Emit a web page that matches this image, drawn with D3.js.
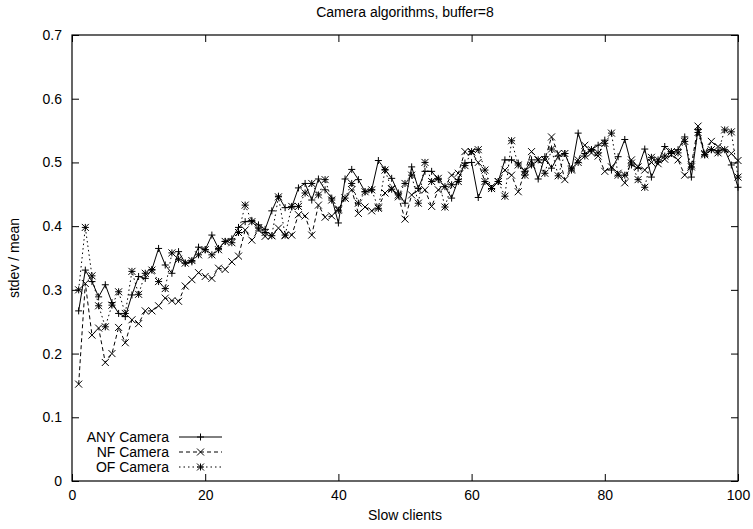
<!DOCTYPE html>
<html lang="en">
<head>
<meta charset="utf-8">
<title>Camera algorithms, buffer=8</title>
<script src="https://d3js.org/d3.v7.min.js"></script>
<style>
  body { margin: 0; background: #fff; }
  svg { display: block; }
  text { font-family: "Liberation Sans", Arial, Helvetica, sans-serif; fill: #000; }
  .tick-label { font-size: 14px; }
  .title { font-size: 14px; }
  .axis-label { font-size: 14px; }
  .legend { font-size: 14px; }
</style>
</head>
<body>
<svg id="chart" width="753" height="529"></svg>
<script>
// values, x = 1..100 slow clients
const slowClients = d3.range(1, 101);

const anyCamera = [
  0.267, 0.331, 0.313, 0.289, 0.308, 0.280, 0.263, 0.258, 0.292, 0.321,
  0.318, 0.332, 0.365, 0.339, 0.326, 0.360, 0.342, 0.344, 0.367, 0.363,
  0.386, 0.365, 0.376, 0.380, 0.398, 0.407, 0.409, 0.402, 0.395, 0.424,
  0.447, 0.429, 0.430, 0.460, 0.467, 0.441, 0.474, 0.457, 0.444, 0.405,
  0.474, 0.489, 0.473, 0.454, 0.457, 0.503, 0.489, 0.475, 0.452, 0.436,
  0.493, 0.459, 0.486, 0.486, 0.473, 0.462, 0.444, 0.473, 0.499, 0.500,
  0.445, 0.470, 0.459, 0.470, 0.504, 0.504, 0.499, 0.486, 0.504, 0.474,
  0.509, 0.491, 0.510, 0.514, 0.488, 0.546, 0.514, 0.520, 0.527, 0.535,
  0.488, 0.509, 0.536, 0.496, 0.491, 0.521, 0.477, 0.501, 0.525, 0.514,
  0.520, 0.540, 0.477, 0.552, 0.512, 0.520, 0.518, 0.520, 0.496, 0.461
];

const nfCamera = [
  0.152, 0.310, 0.229, 0.240, 0.186, 0.200, 0.241, 0.217, 0.253, 0.247,
  0.267, 0.267, 0.275, 0.287, 0.283, 0.282, 0.306, 0.316, 0.327, 0.321,
  0.318, 0.334, 0.332, 0.344, 0.353, 0.394, 0.378, 0.394, 0.384, 0.385,
  0.397, 0.385, 0.386, 0.418, 0.416, 0.386, 0.433, 0.414, 0.416, 0.427,
  0.444, 0.457, 0.420, 0.430, 0.424, 0.430, 0.452, 0.459, 0.446, 0.411,
  0.449, 0.457, 0.457, 0.431, 0.457, 0.462, 0.480, 0.483, 0.517, 0.516,
  0.500, 0.470, 0.462, 0.470, 0.488, 0.480, 0.454, 0.486, 0.517, 0.504,
  0.504, 0.540, 0.514, 0.473, 0.488, 0.504, 0.527, 0.515, 0.510, 0.486,
  0.493, 0.483, 0.468, 0.504, 0.493, 0.488, 0.500, 0.498, 0.505, 0.512,
  0.504, 0.480, 0.496, 0.557, 0.514, 0.533, 0.525, 0.520, 0.514, 0.503
];

const ofCamera = [
  0.300, 0.398, 0.322, 0.275, 0.242, 0.276, 0.297, 0.263, 0.329, 0.293,
  0.326, 0.331, 0.313, 0.302, 0.358, 0.348, 0.342, 0.346, 0.355, 0.363,
  0.355, 0.363, 0.376, 0.374, 0.390, 0.433, 0.407, 0.397, 0.390, 0.385,
  0.446, 0.386, 0.431, 0.431, 0.452, 0.467, 0.449, 0.473, 0.441, 0.425,
  0.444, 0.467, 0.436, 0.454, 0.457, 0.428, 0.488, 0.458, 0.449, 0.467,
  0.480, 0.436, 0.500, 0.470, 0.475, 0.430, 0.465, 0.470, 0.495, 0.517,
  0.520, 0.488, 0.459, 0.470, 0.447, 0.534, 0.496, 0.480, 0.496, 0.504,
  0.483, 0.521, 0.479, 0.514, 0.490, 0.500, 0.510, 0.520, 0.515, 0.530,
  0.546, 0.480, 0.480, 0.499, 0.473, 0.461, 0.508, 0.504, 0.510, 0.517,
  0.515, 0.533, 0.493, 0.547, 0.512, 0.520, 0.515, 0.551, 0.548, 0.477
];

const seriesNames = ["ANY Camera", "NF Camera", "OF Camera"];
const xTicks = [0, 20, 40, 60, 80, 100];
const yTicks = [0, 0.1, 0.2, 0.3, 0.4, 0.5, 0.6, 0.7];

// plot frame
const frame = { left: 72, right: 738, top: 35, bottom: 481 };
const svg = d3.select("#chart");

const x = d3.scaleLinear().domain([0, 100]).range([frame.left, frame.right]);
const y = d3.scaleLinear().domain([0, 0.7]).range([frame.bottom, frame.top]);

// ticks on all four sides, pointing in (gnuplot style)
const tickLen = 7;
svg.append("g").attr("transform", `translate(0,${frame.bottom})`)
   .call(d3.axisBottom(x).tickValues(xTicks).tickSizeInner(-tickLen).tickSizeOuter(0).tickPadding(9).tickFormat(d3.format("d")))
   .call(g => g.select(".domain").remove());
svg.append("g").attr("transform", `translate(0,${frame.top})`)
   .call(d3.axisTop(x).tickValues(xTicks).tickSizeInner(-tickLen).tickSizeOuter(0).tickFormat(""))
   .call(g => g.select(".domain").remove());
svg.append("g").attr("transform", `translate(${frame.left},0)`)
   .call(d3.axisLeft(y).tickValues(yTicks).tickSizeInner(-tickLen).tickSizeOuter(0).tickPadding(10).tickFormat(d => d === 0 ? "0" : d3.format(".1f")(d)))
   .call(g => g.select(".domain").remove());
svg.append("g").attr("transform", `translate(${frame.right},0)`)
   .call(d3.axisRight(y).tickValues(yTicks).tickSizeInner(-tickLen).tickSizeOuter(0).tickFormat(""))
   .call(g => g.select(".domain").remove());

svg.selectAll(".tick text")
   .attr("class", "tick-label")
   .attr("font-size", null)
   .attr("font-family", null);
svg.selectAll("g").attr("font-size", null).attr("font-family", null);
svg.selectAll(".tick line").attr("stroke", "#000");

svg.append("rect")
   .attr("x", frame.left).attr("y", frame.top)
   .attr("width", frame.right - frame.left).attr("height", frame.bottom - frame.top)
   .attr("fill", "none").attr("stroke", "#000").attr("stroke-width", 1.2);

// markers
const m = 3.5;
const plusPath = `M${-m},0H${m}M0,${-m}V${m}`;
const crossPath = `M${-m},${-m}L${m},${m}M${-m},${m}L${m},${-m}`;
const starPath = plusPath + crossPath;

const series = [
  { name: seriesNames[0], values: anyCamera, dash: null,  marker: plusPath },
  { name: seriesNames[1], values: nfCamera,  dash: "4,3", marker: crossPath },
  { name: seriesNames[2], values: ofCamera,  dash: "1.5,3", marker: starPath }
];

const line = d3.line().x(d => x(d[0])).y(d => y(d[1]));

series.forEach(s => {
  const pts = slowClients.map((c, i) => [c, s.values[i]]);
  svg.append("path")
     .attr("d", line(pts))
     .attr("fill", "none")
     .attr("stroke", "#000")
     .attr("stroke-width", 1)
     .attr("stroke-dasharray", s.dash);
  svg.append("g").selectAll("path")
     .data(pts)
     .join("path")
     .attr("transform", d => `translate(${x(d[0])},${y(d[1])})`)
     .attr("d", s.marker)
     .attr("stroke", "#000")
     .attr("stroke-width", 1)
     .attr("fill", "none");
});

// legend, bottom left inside frame
const legend = svg.append("g");
series.forEach((s, i) => {
  const ly = 437 + i * 15;
  legend.append("text")
     .attr("class", "legend")
     .attr("x", 169).attr("y", ly + 5)
     .attr("text-anchor", "end")
     .text(s.name);
  legend.append("path")
     .attr("d", `M179,${ly}H222`)
     .attr("stroke", "#000").attr("stroke-width", 1)
     .attr("stroke-dasharray", s.dash);
  legend.append("path")
     .attr("transform", `translate(200.5,${ly})`)
     .attr("d", s.marker)
     .attr("stroke", "#000").attr("fill", "none");
});

// titles
svg.append("text")
   .attr("class", "title")
   .attr("x", 405).attr("y", 17)
   .attr("text-anchor", "middle")
   .text("Camera algorithms, buffer=8");

svg.append("text")
   .attr("class", "axis-label")
   .attr("x", 405).attr("y", 520)
   .attr("text-anchor", "middle")
   .text("Slow clients");

svg.append("text")
   .attr("class", "axis-label")
   .attr("transform", "translate(19,258) rotate(-90)")
   .attr("text-anchor", "middle")
   .text("stdev / mean");
</script>
</body>
</html>
